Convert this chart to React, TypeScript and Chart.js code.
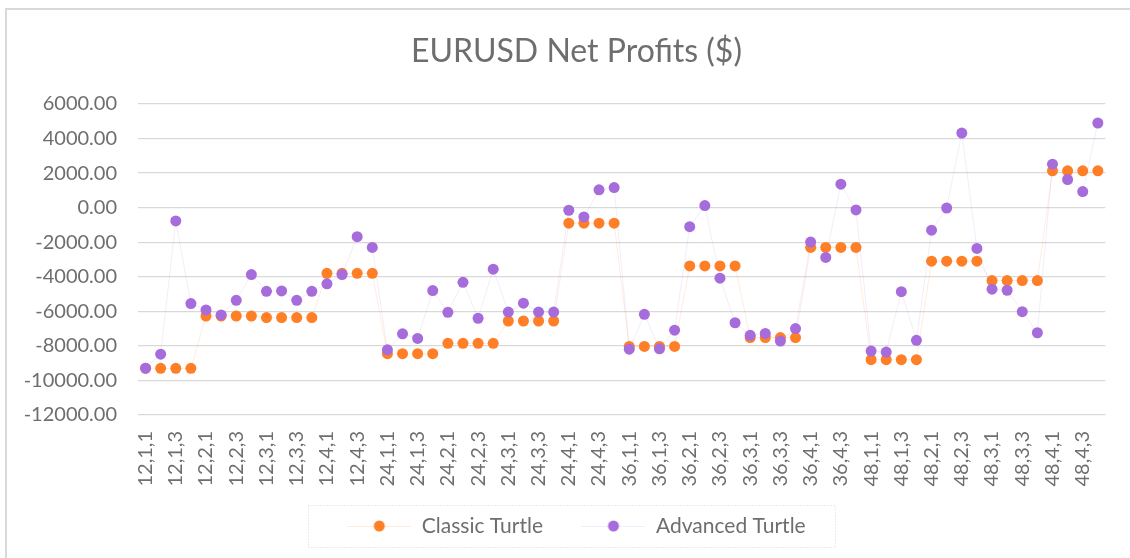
import { useEffect, useRef } from 'react';
import { Chart, registerables } from 'chart.js';

Chart.register(...registerables);

const categories = [
  '12,1,1', '12,1,2', '12,1,3', '12,1,4', '12,2,1', '12,2,2', '12,2,3', '12,2,4',
  '12,3,1', '12,3,2', '12,3,3', '12,3,4', '12,4,1', '12,4,2', '12,4,3', '12,4,4',
  '24,1,1', '24,1,2', '24,1,3', '24,1,4', '24,2,1', '24,2,2', '24,2,3', '24,2,4',
  '24,3,1', '24,3,2', '24,3,3', '24,3,4', '24,4,1', '24,4,2', '24,4,3', '24,4,4',
  '36,1,1', '36,1,2', '36,1,3', '36,1,4', '36,2,1', '36,2,2', '36,2,3', '36,2,4',
  '36,3,1', '36,3,2', '36,3,3', '36,3,4', '36,4,1', '36,4,2', '36,4,3', '36,4,4',
  '48,1,1', '48,1,2', '48,1,3', '48,1,4', '48,2,1', '48,2,2', '48,2,3', '48,2,4',
  '48,3,1', '48,3,2', '48,3,3', '48,3,4', '48,4,1', '48,4,2', '48,4,3', '48,4,4',
];

const classicTurtle = [
  -9300, -9300, -9300, -9300, -6270, -6270, -6270, -6270,
  -6360, -6360, -6360, -6360, -3800, -3800, -3800, -3800,
  -8450, -8450, -8450, -8450, -7850, -7850, -7850, -7850,
  -6560, -6560, -6560, -6560, -900, -900, -900, -900,
  -8030, -8030, -8030, -8030, -3370, -3370, -3370, -3370,
  -7520, -7520, -7520, -7520, -2300, -2300, -2300, -2300,
  -8800, -8800, -8800, -8800, -3100, -3100, -3100, -3100,
  -4220, -4220, -4220, -4220, 2130, 2130, 2130, 2130,
];

const advancedTurtle = [
  -9290, -8480, -770, -5550, -5920, -6210, -5360, -3870,
  -4840, -4820, -5360, -4840, -4410, -3870, -1680, -2300,
  -8230, -7300, -7570, -4800, -6060, -4320, -6400, -3560,
  -6040, -5530, -6040, -6040, -150, -540, 1030, 1160,
  -8190, -6170, -8170, -7090, -1100, 120, -4080, -6660,
  -7390, -7280, -7720, -7000, -1990, -2880, 1360, -130,
  -8300, -8360, -4860, -7680, -1300, -20, 4320, -2360,
  -4720, -4780, -6020, -7240, 2520, 1630, 930, 4900,
];

const seriesNames = ['Classic Turtle', 'Advanced Turtle'];
const chartTitle = 'EURUSD Net Profits ($)';
const yMin = -12000;
const yMax = 6000;
const yStep = 2000;

const FONT = 'Lato, "Open Sans", sans-serif';
const TEXT = '#6e6e6e';
const ORANGE = '#FF7F27';
const PURPLE = '#A66CDB';
const ORANGE_LINE = 'rgba(255,127,39,0.15)';
const PURPLE_LINE = 'rgba(166,108,219,0.13)';

function legendIcon(dot: string, line: string) {
  const c = document.createElement('canvas');
  c.width = 64;
  c.height = 14;
  const ctx = c.getContext('2d')!;
  ctx.strokeStyle = line;
  ctx.lineWidth = 1;
  ctx.beginPath();
  ctx.moveTo(0, 7.5);
  ctx.lineTo(64, 7.5);
  ctx.stroke();
  ctx.fillStyle = dot;
  ctx.beginPath();
  ctx.arc(32, 7, 5.5, 0, Math.PI * 2);
  ctx.fill();
  return c;
}

// let tick labels overflow their axis boxes (no clipping)
const unclipPlugin = {
  id: 'unclipLabels',
  afterLayout(chart: any) {
    const y = chart.scales.y;
    const x = chart.scales.x;
    if (y) y.left = 0;
    if (x) x.bottom = chart.height;
  },
};

const legendBoxPlugin = {
  id: 'legendBox',
  afterDraw(chart: any) {
    const lg = chart.legend;
    const hb = lg && lg.legendHitBoxes;
    if (!hb || !hb.length) return;
    const ctx = chart.ctx;
    const first = hb[0];
    const last = hb[hb.length - 1];
    const left = Math.round(first.left - 39);
    const right = Math.round(last.left + last.width + 29);
    const cy = first.top + first.height / 2;
    ctx.save();
    ctx.setLineDash([1, 2]);
    ctx.strokeStyle = '#d9d9d9';
    ctx.lineWidth = 1;
    ctx.strokeRect(left + 0.5, Math.round(cy - 21) + 0.5, right - left, 42);
    ctx.restore();
  },
};

export default function App() {
  const ref = useRef<HTMLCanvasElement>(null);

  useEffect(() => {
    if (!ref.current) return;
    const icons = [legendIcon(ORANGE, ORANGE_LINE), legendIcon(PURPLE, PURPLE_LINE)];
    const chart = new Chart(ref.current, {
      type: 'line',
      data: {
        labels: categories,
        datasets: [
          {
            label: seriesNames[0],
            data: classicTurtle,
            borderColor: ORANGE_LINE,
            borderWidth: 1,
            backgroundColor: ORANGE,
            pointBackgroundColor: ORANGE,
            pointBorderWidth: 0,
            pointRadius: 5.5,
            pointHoverRadius: 5.5,
            tension: 0,
            order: 1,
          },
          {
            label: seriesNames[1],
            data: advancedTurtle,
            borderColor: PURPLE_LINE,
            borderWidth: 1,
            backgroundColor: PURPLE,
            pointBackgroundColor: PURPLE,
            pointBorderWidth: 0,
            pointRadius: 5.5,
            pointHoverRadius: 5.5,
            tension: 0,
            order: 0,
          },
        ],
      },
      options: {
        responsive: false,
        animation: false,
        layout: { padding: { left: 44, right: 21, top: 0, bottom: 11.5 } },
        plugins: {
          tooltip: { enabled: false },
          title: {
            display: true,
            text: chartTitle,
            color: TEXT,
            font: { family: FONT, size: 32, weight: 'normal', lineHeight: 1.2 },
            padding: { top: 32.8, bottom: 32.8 },
          },
          legend: {
            display: true,
            position: 'bottom',
            labels: {
              color: TEXT,
              font: { family: FONT, size: 21 },
              usePointStyle: true,
              pointStyleWidth: 64,
              padding: 38.5,
              generateLabels: () =>
                seriesNames.map((name, i) => ({
                  text: name,
                  pointStyle: icons[i],
                  fillStyle: i === 0 ? ORANGE : PURPLE,
                  strokeStyle: 'transparent',
                  lineWidth: 0,
                  fontColor: TEXT,
                  hidden: false,
                  datasetIndex: i,
                })),
            },
          },
        },
        scales: {
          x: {
            type: 'category',
            offset: true,
            grid: { display: false },
            border: { display: false },
            afterFit: (s: any) => {
              s.height = 62;
            },
            ticks: {
              autoSkip: false,
              minRotation: 90,
              maxRotation: 90,
              padding: 8,
              color: TEXT,
              font: { family: FONT, size: 20 },
              callback: (_v: any, i: number) => (i % 2 === 0 ? categories[i] : ''),
            },
          },
          y: {
            min: yMin,
            max: yMax,
            border: { display: false },
            grid: { color: '#d9d9d9', lineWidth: 1.3, drawTicks: false },
            afterFit: (s: any) => {
              s.width = 94;
            },
            ticks: {
              stepSize: yStep,
              padding: 21,
              color: TEXT,
              font: { family: FONT, size: 20 },
              callback: (v: any) => Number(v).toFixed(2),
            },
          },
        },
      },
      plugins: [unclipPlugin, legendBoxPlugin],
    });
    return () => chart.destroy();
  }, []);

  return (
    <div
      style={{
        position: 'fixed',
        left: 0,
        top: 0,
        width: 1130,
        height: 558,
        overflow: 'hidden',
        background: '#fff',
      }}
    >
      <div
        style={{
          position: 'absolute',
          left: 5,
          top: 8,
          width: 1200,
          height: 700,
          border: '2px solid #d9d9d9',
        }}
      />
      <canvas
        ref={ref}
        width={1130}
        height={558}
        style={{ position: 'absolute', left: 0, top: 0, width: 1130, height: 558 }}
      />
    </div>
  );
}
